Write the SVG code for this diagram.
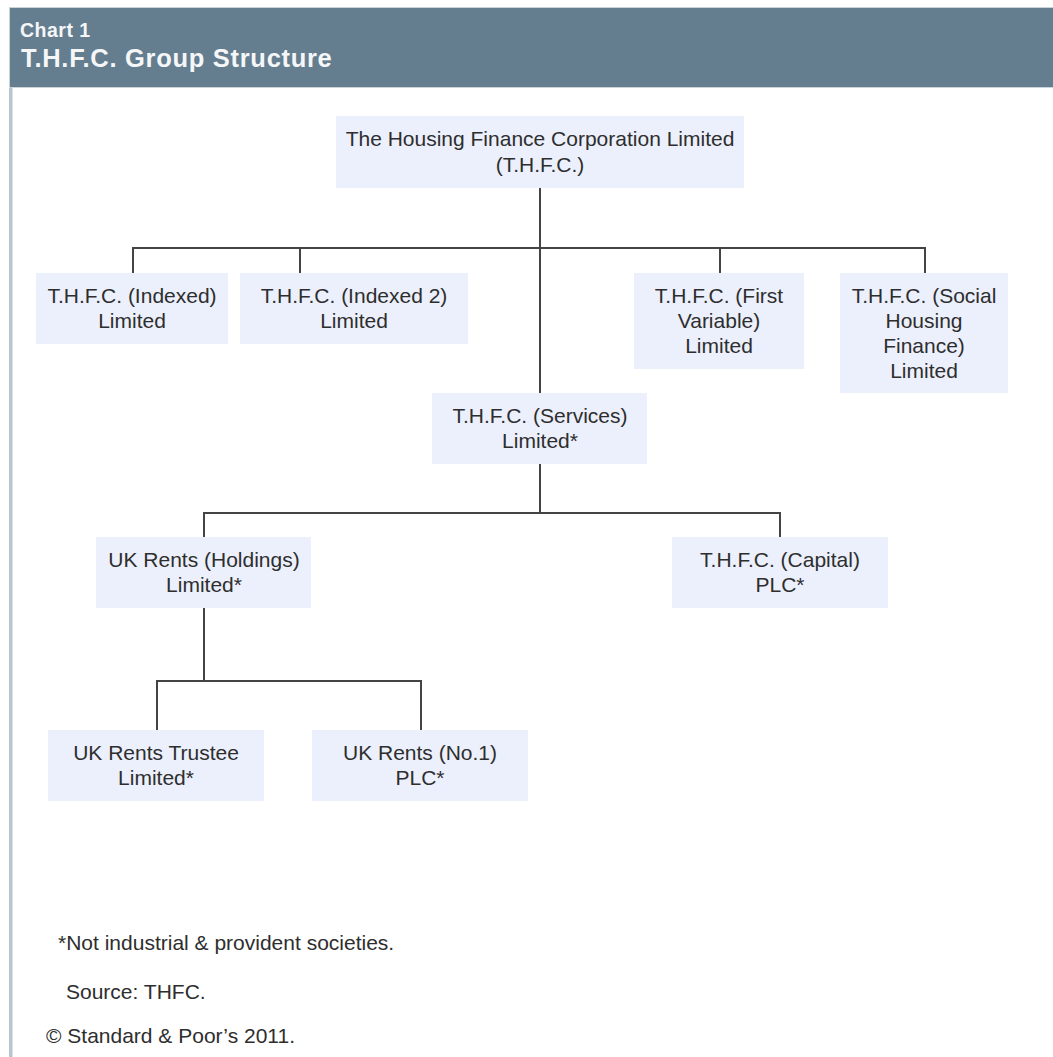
<svg xmlns="http://www.w3.org/2000/svg" width="1053" height="1057" viewBox="0 0 1053 1057">
<style>
.node rect{fill:#ecf0fc}
.node text,.foot{font-family:"Liberation Sans",Arial,sans-serif;font-size:21px;fill:#2e2e2e;text-anchor:middle}
.foot{text-anchor:start}
.conn{stroke:#444;stroke-width:2;fill:none}
.hd{font-family:"Liberation Sans",Arial,sans-serif;font-weight:bold;fill:#f4f6f8}
</style>
<rect x="0" y="0" width="1053" height="1057" fill="#ffffff"/>
<rect x="9" y="87" width="3.5" height="970" fill="#b7c6d1"/>
<rect x="9.5" y="7.5" width="1044" height="80" fill="#647e8f" stroke="#c9d3da" stroke-width="1"/>
<text class="hd" x="20" y="37" font-size="19.5" letter-spacing="0.5">Chart 1</text>
<text class="hd" x="21" y="67" font-size="25.5" letter-spacing="0.7">T.H.F.C. Group Structure</text>

<g id="connectors" class="conn">
<path d="M540 188V393"/>
<path d="M133 273V248H925V273"/>
<path d="M300 248V273"/>
<path d="M720 248V273"/>
<path d="M540 464V513"/>
<path d="M204 537V513H780V537"/>
<path d="M204 608V681"/>
<path d="M157 730V681H421V730"/>
</g>

<g id="thfc" class="node"><rect x="336" y="116" width="408" height="72"/>
<text x="540" y="146">The Housing Finance Corporation Limited</text><text x="540" y="172">(T.H.F.C.)</text></g>

<g id="indexed" class="node"><rect x="36" y="273" width="192" height="71"/>
<text x="132" y="303">T.H.F.C. (Indexed)</text><text x="132" y="328">Limited</text></g>

<g id="indexed2" class="node"><rect x="240" y="273" width="228" height="71"/>
<text x="354" y="303">T.H.F.C. (Indexed 2)</text><text x="354" y="328">Limited</text></g>

<g id="firstvariable" class="node"><rect x="634" y="273" width="170" height="96"/>
<text x="719" y="303">T.H.F.C. (First</text><text x="719" y="328">Variable)</text><text x="719" y="353">Limited</text></g>

<g id="socialhousing" class="node"><rect x="840" y="273" width="168" height="120"/>
<text x="924" y="303">T.H.F.C. (Social</text><text x="924" y="328">Housing</text><text x="924" y="353">Finance)</text><text x="924" y="378">Limited</text></g>

<g id="services" class="node"><rect x="432" y="393" width="215" height="71"/>
<text x="540" y="423">T.H.F.C. (Services)</text><text x="540" y="448">Limited*</text></g>

<g id="holdings" class="node"><rect x="96" y="537" width="215" height="71"/>
<text x="204" y="567">UK Rents (Holdings)</text><text x="204" y="592">Limited*</text></g>

<g id="capital" class="node"><rect x="672" y="537" width="216" height="71"/>
<text x="780" y="567">T.H.F.C. (Capital)</text><text x="780" y="592">PLC*</text></g>

<g id="trustee" class="node"><rect x="48" y="730" width="216" height="71"/>
<text x="156" y="760">UK Rents Trustee</text><text x="156" y="785">Limited*</text></g>

<g id="no1" class="node"><rect x="312" y="730" width="216" height="71"/>
<text x="420" y="760">UK Rents (No.1)</text><text x="420" y="785">PLC*</text></g>

<text class="foot" x="58" y="950">*Not industrial &amp; provident societies.</text>
<text class="foot" x="66" y="999">Source: THFC.</text>
<text class="foot" x="46" y="1043">© Standard &amp; Poor’s 2011.</text>
</svg>
